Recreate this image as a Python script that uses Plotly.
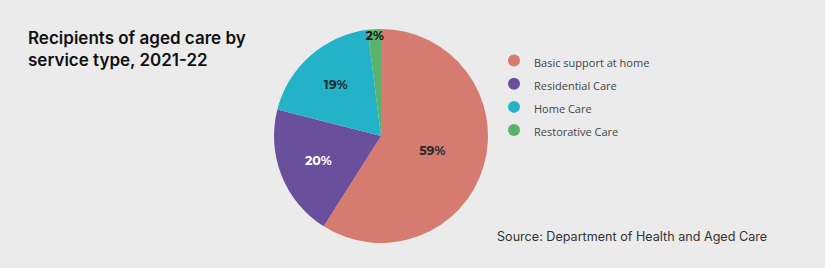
import plotly.graph_objects as go

categories = ["Basic support at home", "Residential Care", "Home Care", "Restorative Care"]
values = [59, 20, 19, 2]
colors = ["#d57b6f", "#6a4f9c", "#23b2c8", "#5bb36b"]
text_colors = ["#2a2a2a", "#ffffff", "#1e2e30", "#1a1a1a"]

W, H = 825, 268
fig = go.Figure()
fig.add_trace(go.Pie(
    labels=categories, values=values, sort=False, direction="clockwise", rotation=0,
    marker=dict(colors=colors, line=dict(width=0)),
    texttemplate="%{value}%", textposition="inside", insidetextorientation="horizontal",
    textfont=dict(family="Montserrat, Open Sans, sans-serif", size=12.5, color=text_colors, weight=700),
    showlegend=False, hoverinfo="label+percent",
    domain=dict(x=[274 / W, 488 / W], y=[1 - 243 / H, 1 - 29 / H]),
))
for c, col in zip(categories, colors):
    fig.add_trace(go.Scatter(x=[None], y=[None], mode="markers",
                             name='<span style="font-size:11px">' + c + '</span>',
                             marker=dict(symbol="circle", size=12, color=col)))

fig.update_layout(
    width=W, height=H, margin=dict(l=0, r=0, t=0, b=0),
    paper_bgcolor="#ebebeb", plot_bgcolor="#ebebeb",
    uniformtext=dict(minsize=12.5, mode="show"),
    xaxis=dict(visible=False), yaxis=dict(visible=False),
    legend=dict(x=494 / W, y=1 - 44 / H, xanchor="left", yanchor="top",
                bgcolor="rgba(0,0,0,0)", font=dict(family="Open Sans", size=15.5, color="#444"),
                itemwidth=30, tracegroupgap=0),
    annotations=[
        dict(text="Recipients of aged care by<br>service type, 2021-22", x=26 / W, y=1 - 26 / H,
             xref="paper", yref="paper", xanchor="left", yanchor="top", align="left", showarrow=False,
             font=dict(family="Inter", size=17, color="#111", weight=600)),
        dict(text="Source: Department of Health and Aged Care", x=495 / W, y=1 - 236 / H,
             xref="paper", yref="paper", xanchor="left", yanchor="middle", align="left", showarrow=False,
             font=dict(family="Inter", size=12.6, color="#333")),
    ],
)
fig.write_html("out.html")
